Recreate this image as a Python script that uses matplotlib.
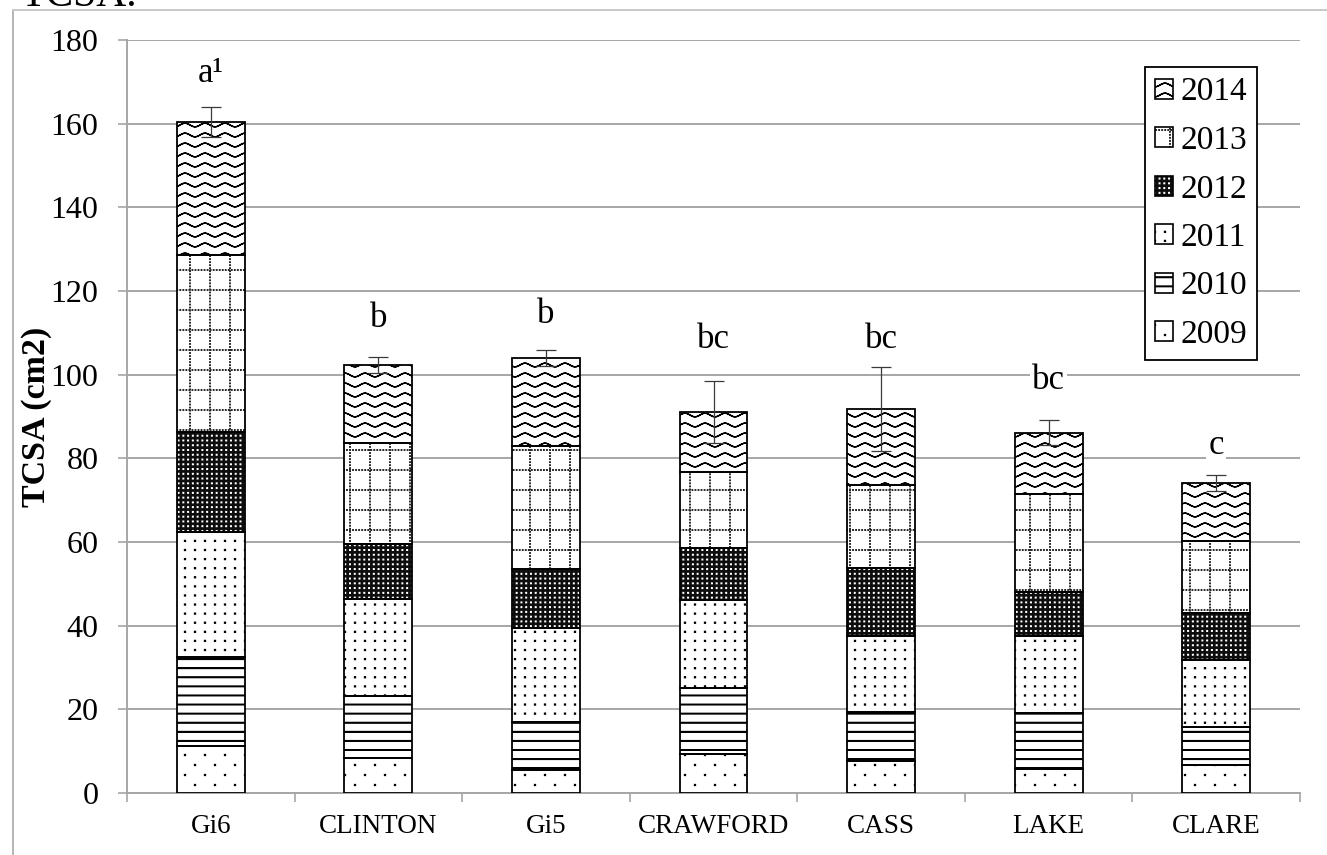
import warnings
import numpy as np
import matplotlib
matplotlib.use("Agg")
import matplotlib.pyplot as plt
import matplotlib.hatch as mhatch
from matplotlib.path import Path
from matplotlib.patches import Patch
from matplotlib.lines import Line2D
from matplotlib.legend_handler import HandlerTuple

warnings.filterwarnings("ignore")

# ---------------------------------------------------------------- data
cultivars = ["Gi6", "CLINTON", "Gi5", "CRAWFORD", "CASS", "LAKE", "CLARE"]
years = ["2009", "2010", "2011", "2012", "2013", "2014"]

# yearly TCSA increments (cm2), one list per year
tcsa_2009 = [11.2, 8.4, 5.5, 9.3, 7.6, 5.7, 6.7]
tcsa_2010 = [21.4, 14.8, 11.5, 15.8, 11.8, 13.4, 9.1]
tcsa_2011 = [29.9, 23.2, 22.4, 21.0, 18.1, 18.4, 16.0]
tcsa_2012 = [23.7, 13.1, 14.1, 12.5, 16.3, 10.6, 11.2]
tcsa_2013 = [42.5, 24.2, 29.5, 18.1, 19.8, 23.4, 17.2]
tcsa_2014 = [31.7, 18.6, 21.0, 14.4, 18.2, 14.6, 13.9]

# standard error of the cumulative total
total_err = [3.5, 2.0, 2.0, 7.4, 10.0, 3.0, 2.0]

# mean separation letters
letters = ["a\u00b9", "b", "b", "bc", "bc", "bc", "c"]
letter_y = [172.0, 113.5, 114.3, 108.3, 108.3, 98.7, 83.0]

yearly = [tcsa_2009, tcsa_2010, tcsa_2011, tcsa_2012, tcsa_2013, tcsa_2014]


# ---------------------------------------------------------- fill patterns
MOVE, LINE, CLOSE = Path.MOVETO, Path.LINETO, Path.CLOSEPOLY


def _dot(cx, cy, s):
    h = s / 2.0
    v = [(cx - h, cy - h), (cx + h, cy - h), (cx + h, cy + h),
         (cx - h, cy + h), (cx - h, cy - h)]
    return v, [MOVE, LINE, LINE, LINE, CLOSE]


def _staggered(ncol, nrow, size):
    verts, codes = [], []
    for j in range(nrow):
        shift = 0.25 if j % 2 == 0 else 0.75
        for i in range(ncol):
            v, c = _dot((i + shift) / ncol, (j + 0.5) / nrow, size)
            verts += v
            codes += c
    return verts, codes


def _grid_dots(ncol, nrow, size):
    verts, codes = [], []
    for j in range(nrow):
        for i in range(ncol):
            v, c = _dot((i + 0.5) / ncol, (j + 0.5) / nrow, size)
            verts += v
            codes += c
    return verts, codes


def _hlines(n, thick):
    verts, codes = [], []
    for j in range(n):
        y = (j + 0.5) / n
        verts += [(0, y - thick / 2), (1, y - thick / 2), (1, y + thick / 2),
                  (0, y + thick / 2), (0, y - thick / 2)]
        codes += [MOVE, LINE, LINE, LINE, CLOSE]
    return verts, codes


def _dotted_grid(ncell, ndot, size):
    verts, codes = [], []
    for i in range(ncell):
        p = (i + 0.5) / ncell
        for k in range(ndot):
            q = (k + 0.5) / ndot
            for cx, cy in ((p, q), (q, p)):
                v, c = _dot(cx, cy, size)
                verts += v
                codes += c
    return verts, codes


def _waves(nper, nrow, amp):
    verts, codes = [], []
    xs = np.linspace(0, 1, 161)
    for j in range(nrow):
        y0 = (j + 0.5) / nrow
        ys = y0 + amp * np.sin(2 * np.pi * nper * xs)
        fwd = list(zip(xs, ys))
        path = fwd + fwd[::-1]
        verts += path
        codes += [MOVE] + [LINE] * (len(path) - 1)
    return verts, codes


def _make_pattern(key, builder):
    class _Pattern(mhatch.HatchPatternBase):
        def __init__(self, hatch, density):
            if hatch is not None and key in hatch:
                self._v, self._c = builder()
                self.num_vertices = len(self._v)
            else:
                self.num_vertices = 0

        def set_vertices_and_codes(self, vertices, codes):
            vertices[:] = np.asarray(self._v, float)
            codes[:] = np.asarray(self._c, Path.code_type)

    return _Pattern


_custom = {
    "p": lambda: _staggered(5, 10, 0.009),      # sparse dots
    "q": lambda: _grid_dots(10, 11, 0.009),     # denser dots
    "h": lambda: _hlines(11, 0.006),            # horizontal bars
    "k": lambda: _grid_dots(21, 21, 0.006),     # fine dots (reversed)
    "g": lambda: _dotted_grid(5, 33, 0.005),    # dotted grid
    "w": lambda: _waves(5, 10, 0.018),          # waves
}
for _k, _b in _custom.items():
    mhatch._hatch_types.append(_make_pattern(_k, _b))

# year -> (face colour, pattern colour, pattern)
year_style = {
    "2009": ("white", "black", "p"),
    "2010": ("white", "black", "h"),
    "2011": ("white", "black", "q"),
    "2012": ("#0d0d0d", "white", "k"),
    "2013": ("white", "#2a2a2a", "g"),
    "2014": ("white", "black", "w"),
}

# ---------------------------------------------------------------- figure
plt.rcParams["font.family"] = ["Liberation Serif", "DejaVu Serif"]
plt.rcParams["hatch.linewidth"] = 1.0

W, H, DPI = 1327, 855, 100
fig = plt.figure(figsize=(W / DPI, H / DPI), dpi=DPI)
ax = fig.add_axes([127 / W, 1 - 793 / H, (1300 - 127) / W, (793 - 40) / H])

grey = "#a6a6a6"
x = np.arange(len(cultivars))
bar_w = 0.405

bottom = np.zeros(len(cultivars))
for yr, vals in zip(years, yearly):
    fc, hc, hp = year_style[yr]
    vals = np.asarray(vals)
    ax.bar(x, vals, bar_w, bottom=bottom, facecolor=fc, edgecolor=hc,
           hatch=hp, linewidth=0, zorder=3)
    ax.bar(x, vals, bar_w, bottom=bottom, fill=False, edgecolor="black",
           linewidth=1.3, zorder=4)
    bottom = bottom + vals

ax.errorbar(x, bottom, yerr=total_err, fmt="none", ecolor="#3a3a3a",
            elinewidth=0.9, capsize=7, capthick=0.9, zorder=5)

for xi, lab, ly in zip(x, letters, letter_y):
    ax.text(xi, ly, lab, ha="center", va="center", fontsize=25, zorder=6,
            bbox=dict(facecolor="white", edgecolor="none", pad=1.5))

ax.set_ylim(0, 180)
ax.set_xlim(-0.5, len(cultivars) - 0.5)
ax.set_yticks(np.arange(0, 181, 20))
ax.yaxis.grid(True, color=grey, linewidth=1.4, zorder=0)
ax.set_axisbelow(True)

ax.set_xticks(np.arange(-0.5, len(cultivars), 1.0))
ax.set_xticklabels([])
ax.set_xticks(x, minor=True)
ax.set_xticklabels(cultivars, minor=True)
ax.tick_params(axis="x", which="major", direction="out", length=6.5,
               width=1.2, color=grey)
ax.tick_params(axis="x", which="minor", length=0, pad=15, labelsize=19.5)
ax.tick_params(axis="y", direction="out", length=6.5, width=1.2,
               color=grey, pad=14, labelsize=23)

for side in ("top", "right"):
    ax.spines[side].set_visible(False)
for side in ("left", "bottom"):
    ax.spines[side].set_color(grey)
    ax.spines[side].set_linewidth(1.4)

ax.set_ylabel("TCSA (cm2)", fontsize=24.5, fontweight="bold")
ax.yaxis.set_label_coords(-0.064, 0.5)

# legend, newest year first
handles, labels = [], []
for yr in years[::-1]:
    fc, hc, hp = year_style[yr]
    handles.append((Patch(facecolor=fc, edgecolor=hc, hatch=hp, linewidth=0),
                    Patch(facecolor="none", edgecolor="black", linewidth=1.2)))
    labels.append(yr)
leg = fig.legend(handles, labels, handler_map={tuple: HandlerTuple(ndivide=1)},
                 loc="upper left", bbox_to_anchor=(1145 / W, 1 - 67 / H),
                 fontsize=24, frameon=True, fancybox=False, framealpha=1,
                 handlelength=0.55, handleheight=0.55, handletextpad=0.2,
                 labelspacing=0.54, borderpad=0.3, borderaxespad=0)
leg.get_frame().set_edgecolor("black")
leg.get_frame().set_linewidth(1.3)

# page frame and running heading
fig.add_artist(Line2D([13 / W, 13 / W], [0, 1 - 10 / H],
                      transform=fig.transFigure, color="#b5b5b5", lw=1.4))
fig.add_artist(Line2D([13 / W, 1], [1 - 10 / H, 1 - 10 / H],
                      transform=fig.transFigure, color="#c8c8c8", lw=1.4))
fig.text(20 / W, 1 - 6 / H, "TCSA.", fontsize=30, va="baseline", ha="left")

fig.savefig("out.png", dpi=DPI)
